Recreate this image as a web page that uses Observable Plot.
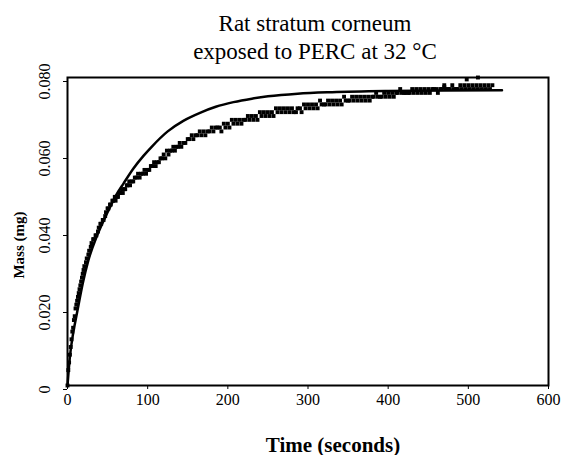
<!DOCTYPE html>
<html>
<head>
<meta charset="utf-8">
<script src="https://cdn.jsdelivr.net/npm/d3@7"></script>
<script src="https://cdn.jsdelivr.net/npm/@observablehq/plot@0.6"></script>
<style>
  html, body { margin: 0; padding: 0; background: #fff; }
  #wrap { width: 563px; height: 455px; position: relative; overflow: hidden; }
  #title { position: absolute; left: 0; top: 10px; width: 630px; text-align: center;
           font-family: "Liberation Serif", serif; font-size: 23px; line-height: 28px; color: #000; }
  #ylab { position: absolute; left: 18.5px; top: 245px; width: 120px; height: 18px; margin-left: -60px; margin-top: -9px;
          text-align: center; line-height: 18px; transform: rotate(-90deg);
          font-family: "Liberation Serif", serif; font-weight: bold; font-size: 15px; color: #000; white-space: nowrap; }
  #chart { position: absolute; left: 0; top: 0; }
</style>
</head>
<body>
<div id="wrap">
  <div id="chart"></div>
  <div id="title">Rat stratum corneum<br>exposed to PERC at 32 °C</div>
  <div id="ylab"></div>
</div>
<script>
// Fitted model curve
const fitTime = [0, 3, 7, 12, 19, 26, 37, 50, 60, 70, 82, 95, 105, 125, 145, 166, 185, 207, 230, 250, 287, 330, 400, 470, 542];
const fitMass = [0, 0.0075, 0.0135, 0.0190, 0.0265, 0.0325, 0.0390, 0.0450, 0.0492, 0.0525, 0.0563, 0.0597, 0.0620, 0.0660, 0.0688, 0.0709, 0.0724, 0.0736, 0.0745, 0.0751, 0.0758, 0.0762, 0.0765, 0.0766, 0.0767];

const obsTime = [0,2,4,6,8,10,12,14,16,18,20,23,26,29,32,35,38,41,44,47,50,53,56,59,62,65,68,71,74,77,80,84,88,92,96,100,104,108,112,116,120,124,128,132,136,140,145,150,155,160,165,170,175,180,185,190,195,200,205,210,215,220,225,230,235,240,245,250,255,260,265,270,275,280,285,290,295,300,305,310,315,320,325,330,335,340,345,350,355,360,365,370,375,380,385,390,395,400,405,410,415,420,425,430,435,440,445,450,455,460,465,470,475,480,485,490,495,500,505,510,515,520,525,530,498,512,470];
const obsMass = [0.000,0.006,0.010,0.014,0.017,0.020,0.022,0.024,0.026,0.028,0.030,0.032,0.034,0.036,0.038,0.039,0.040,0.042,0.043,0.044,0.046,0.047,0.048,0.049,0.049,0.050,0.051,0.051,0.052,0.053,0.053,0.054,0.055,0.055,0.056,0.056,0.057,0.058,0.058,0.059,0.060,0.061,0.061,0.062,0.062,0.063,0.063,0.064,0.065,0.065,0.066,0.066,0.066,0.067,0.067,0.067,0.068,0.068,0.069,0.069,0.069,0.069,0.070,0.070,0.070,0.071,0.071,0.071,0.071,0.072,0.072,0.072,0.072,0.072,0.071,0.072,0.073,0.073,0.073,0.073,0.074,0.073,0.074,0.074,0.074,0.074,0.075,0.074,0.075,0.075,0.075,0.075,0.075,0.075,0.076,0.075,0.076,0.076,0.076,0.076,0.077,0.076,0.076,0.077,0.077,0.077,0.077,0.077,0.077,0.077,0.077,0.078,0.077,0.078,0.077,0.078,0.078,0.078,0.078,0.078,0.078,0.078,0.078,0.078,0.0795,0.080,0.0775];

// Second (interleaved) reading of the observed band
const obsTime2 = [1,3,5,7,9,11,13,15,17,19,21,24,27,30,33,36,39,42,45,48,51,54,57,60,63,66,69,72,75,78,82,86,90,94,98,102,106,110,114,118,122,126,130,134,138,142,147,152,157,162,167,172,177,182,187,192,197,202,207,212,217,222,227,232,237,242,247,252,257,262,267,272,277,282,287,292,297,302,307,312,317,322,327,332,337,342,347,352,357,362,367,372,377,382,387,392,397,402,407,412,417,422,427,432,437,442,447,452,457,462,467,472,477,482,487,492,497,502,507,512,517,522,527];
const obsMass2 = [0.004,0.008,0.012,0.015,0.018,0.021,0.023,0.025,0.027,0.029,0.031,0.033,0.035,0.037,0.038,0.039,0.041,0.042,0.043,0.045,0.046,0.047,0.048,0.048,0.049,0.050,0.050,0.051,0.052,0.052,0.053,0.054,0.054,0.055,0.055,0.056,0.057,0.057,0.058,0.059,0.059,0.060,0.061,0.061,0.062,0.062,0.063,0.064,0.064,0.065,0.065,0.065,0.066,0.066,0.067,0.066,0.067,0.067,0.068,0.068,0.068,0.069,0.069,0.069,0.069,0.070,0.070,0.070,0.070,0.071,0.071,0.071,0.071,0.071,0.072,0.071,0.072,0.072,0.072,0.072,0.073,0.073,0.073,0.073,0.073,0.073,0.074,0.074,0.074,0.074,0.074,0.074,0.074,0.075,0.075,0.075,0.075,0.075,0.075,0.076,0.076,0.076,0.076,0.076,0.076,0.076,0.076,0.076,0.077,0.076,0.077,0.077,0.077,0.077,0.077,0.077,0.077,0.077,0.077,0.077,0.077,0.077,0.077];

const xTicks = [0, 100, 200, 300, 400, 500, 600];
const yTicks = [0, 0.02, 0.04, 0.06, 0.08];
const yTickLabels = ["0", "0.020", "0.040", "0.060", "0.080"];
const xLabel = "Time (seconds)";
const yLabel = "Mass (mg)";

document.getElementById("ylab").textContent = yLabel;

const fit = fitTime.map((t, i) => ({t, m: fitMass[i]}));
const obs = obsTime.map((t, i) => ({t, m: obsMass[i]}))
  .concat(obsTime2.map((t, i) => ({t, m: obsMass2[i]})));

const chart = Plot.plot({
  width: 563,
  height: 455,
  marginLeft: 67,
  marginRight: 15,
  marginTop: 77,
  marginBottom: 70,
  style: {fontFamily: "Liberation Serif, serif", fontSize: "16px", color: "#000", background: "#fff"},
  x: {domain: [0, 600]},
  y: {domain: [0, 0.08]},
  marks: [
    Plot.dot(obs, {x: "t", y: "m", symbol: "square", r: 2.2, fill: "#000", stroke: "none"}),
    Plot.line(fit, {x: "t", y: "m", stroke: "#000", strokeWidth: 2.5, curve: "monotone-x"}),
    Plot.frame({stroke: "#000", strokeWidth: 2}),
    Plot.axisX({ticks: xTicks, tickSize: 4, tickPadding: 4, tickFormat: d => String(d), label: null, fontSize: 16}),
    Plot.axisY({ticks: yTicks, tickSize: 4, tickPadding: 14, tickRotate: -90, dy: 4,
                tickFormat: d => yTickLabels[yTicks.indexOf(d)], label: null, fontSize: 16}),
    Plot.text([xLabel], {frameAnchor: "bottom", lineAnchor: "bottom", dx: 25, dy: 66,
                         fontWeight: "bold", fontSize: 21})
  ]
});
document.getElementById("chart").appendChild(chart);
</script>
</body>
</html>
